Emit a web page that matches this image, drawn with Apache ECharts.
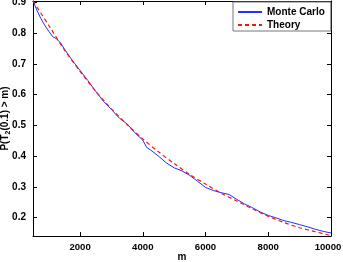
<!DOCTYPE html>
<html><head><meta charset="utf-8">
<script src="https://cdn.jsdelivr.net/npm/echarts@6/dist/echarts.min.js"></script>
<style>html,body{margin:0;padding:0;background:#fff}#c{width:343px;height:262px}</style>
</head><body><div id="c"></div>
<script>
var theoryM = [500,1000,1500,2000,2500,3000,3500,4000,4500,5000,5500,6000,6500,7000,7500,8000,8500,9000,9500,10000];
var theoryP = [0.905,0.826,0.746,0.676,0.611,0.554,0.503,0.456,0.414,0.376,0.340,0.309,0.279,0.254,0.228,0.204,0.184,0.167,0.154,0.141];
var mcM = [500,625,750,875,1000,1125,1250,1375,1500,1750,2000,2250,2500,2750,3000,3250,3500,3750,4000,4125,4250,4500,4750,5000,5250,5500,5750,6000,6250,6500,6750,7000,7250,7500,7750,8000,8250,8500,8750,9000,9250,9500,9750,10000];
var mcP = [0.905,0.875,0.848,0.826,0.807,0.789,0.782,0.769,0.749,0.712,0.679,0.646,0.611,0.578,0.552,0.524,0.505,0.476,0.452,0.428,0.420,0.400,0.378,0.362,0.352,0.337,0.318,0.298,0.288,0.281,0.275,0.259,0.244,0.232,0.218,0.207,0.199,0.190,0.184,0.177,0.170,0.162,0.155,0.150];
var xTicks = [2000,4000,6000,8000,10000];
var yTicks = [0.2,0.3,0.4,0.5,0.6,0.7,0.8,0.9];

function zip(a,b){return a.map(function(v,i){return [v,b[i]];});}
var font = 'Liberation Sans';
var chart = echarts.init(document.getElementById('c'));
var axLine = {show:true, lineStyle:{color:'#000', width:1}};
chart.setOption({
  animation:false,
  grid:{left:33, right:12, top:1, bottom:26, containLabel:false, outerBoundsMode:'none'},
  xAxis:[{
    type:'value', min:500, max:10000, position:'bottom',
    axisLine:axLine,
    axisTick:{show:true, inside:true, length:4, customValues:xTicks, lineStyle:{color:'#000'}},
    axisLabel:{customValues:xTicks, color:'#000', fontFamily:font, fontWeight:'bold', fontSize:9.6, margin:6,
      formatter:function(v){return v === xTicks[xTicks.length-1] ? '{r|' + v + '}' : String(v);},
      rich:{r:{color:'#000', fontFamily:font, fontWeight:'bold', fontSize:9.6, padding:[0,6,0,0]}}},
    splitLine:{show:false},
    name:'m', nameLocation:'middle', nameGap:16, nameMoveOverlap:false,
    nameTextStyle:{color:'#000', fontFamily:font, fontWeight:'bold', fontSize:10}
  },{
    type:'value', min:500, max:10000, position:'top',
    axisLine:axLine,
    axisTick:{show:true, inside:true, length:4, customValues:xTicks, lineStyle:{color:'#000'}},
    axisLabel:{show:false}, splitLine:{show:false}
  }],
  yAxis:[{
    type:'value', min:0.14, max:0.905, position:'left',
    axisLine:axLine,
    axisTick:{show:true, inside:true, length:4, customValues:yTicks, lineStyle:{color:'#000'}},
    axisLabel:{customValues:yTicks, color:'#000', fontFamily:font, fontWeight:'bold', fontSize:10, margin:7,
      formatter:function(v){return v.toFixed(1);}},
    splitLine:{show:false},
    name:'P(T{s|2}(0.1) > m)', nameLocation:'middle', nameGap:21, nameRotate:90, nameMoveOverlap:false,
    nameTextStyle:{color:'#000', fontFamily:font, fontWeight:'bold', fontSize:10, lineHeight:14,
      rich:{s:{fontFamily:font, fontWeight:'bold', fontSize:7, lineHeight:7, verticalAlign:'bottom', color:'#000'}}}
  },{
    type:'value', min:0.14, max:0.905, position:'right',
    axisLine:axLine,
    axisTick:{show:true, inside:true, length:4, customValues:yTicks, lineStyle:{color:'#000'}},
    axisLabel:{show:false}, splitLine:{show:false}
  }],
  legend:{
    orient:'vertical', left:233, top:2, itemWidth:24, itemHeight:12, itemGap:3,
    padding:[5,6,1,4], borderColor:'#777', borderWidth:1, backgroundColor:'#fff',
    itemStyle:{opacity:0},
    textStyle:{color:'#000', fontFamily:font, fontWeight:'bold', fontSize:10},
    data:['Monte Carlo','Theory']
  },
  series:[
    {name:'Monte Carlo', type:'line', xAxisIndex:0, yAxisIndex:0, data:zip(mcM,mcP), showSymbol:false, symbol:'none',
      lineStyle:{color:'#2030ff', width:1}, itemStyle:{color:'#2030ff'}},
    {name:'Theory', type:'line', xAxisIndex:0, yAxisIndex:0, data:zip(theoryM,theoryP), smooth:0.3, showSymbol:false, symbol:'none',
      lineStyle:{color:'#ff1010', width:1.2, type:[4,3]}, itemStyle:{color:'#ff1010'}}
  ]
});
</script></body></html>
